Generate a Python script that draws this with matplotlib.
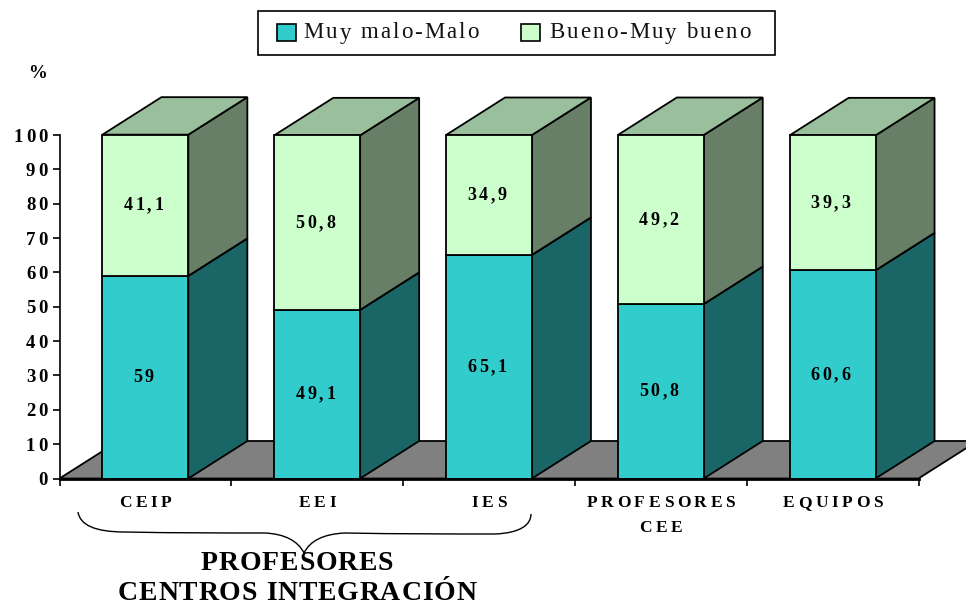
import matplotlib
matplotlib.use("Agg")
import matplotlib.pyplot as plt
from matplotlib.patches import Polygon, Rectangle, PathPatch
from matplotlib.path import Path
from matplotlib.text import Text
from matplotlib.transforms import Affine2D

categories = ["CEIP", "EEI", "IES", "PROFESORES\nCEE", "EQUIPOS"]
malo = [59, 49.1, 65.1, 50.8, 60.6]
bueno = [41.1, 50.8, 34.9, 49.2, 39.3]
series_names = ["Muy malo-Malo", "Bueno-Muy bueno"]
y_ticks = list(range(0, 101, 10))
group_title = "PROFESORES\nCENTROS INTEGRACIÓN"

# Text keeps its whole string; drawing adds letter spacing where _tracking is set.
_orig_draw = Text.draw
def _tracked_draw(self, renderer):
    tracking = getattr(self, "_tracking", 0)
    if not tracking or not self.get_visible() or not self.get_text().strip():
        return _orig_draw(self, renderer)
    _, info, _ = self._get_layout(renderer)
    posx, posy = self.get_transform().transform(self.get_unitless_position())
    fp = self.get_fontproperties()
    gc = renderer.new_gc()
    gc.set_foreground(self.get_color())
    gc.set_alpha(self.get_alpha())
    share = {"left": 0.0, "center": 0.5, "right": 1.0}[self.get_ha()]
    canvash = renderer.get_canvas_width_height()[1]
    adv = lambda s: renderer.get_text_width_height_descent(s, fp, False)[0]
    for line, _wh, x, y in info:
        x0 = posx + x - tracking * (len(line) - 1) * share
        yy = posy + y
        if renderer.flipy():
            yy = canvash - yy
        for k, ch in enumerate(line):
            if ch == " ":
                continue
            off = adv(line[:k] + ch) - adv(ch) if k else 0
            renderer.draw_text(gc, x0 + off + k * tracking, yy, ch, fp, 0, False, mtext=None)
    gc.restore()
    self.stale = False
Text.draw = _tracked_draw

W, H = 966, 607
plt.rcParams["font.family"] = ["Liberation Serif", "DejaVu Serif"]
fig = plt.figure(figsize=(W / 100, H / 100), dpi=100)
L, R, B, T = 59.5, 918.5, 478.5, 135.0
ax = fig.add_axes([L / W, 1 - B / H, (R - L) / W, (B - T) / H])
ax.set_xlim(-0.5, 4.5)
ax.set_ylim(0, 100)
ax.patch.set_visible(False)

px = Affine2D().scale(1, -1).translate(0, H)
DX = 59 / ((R - L) / 5)
DY = 37.5 / ((B - T) / 100)
BW = 0.5
EC = "#000000"
LW = 1.3

# floor
ax.add_patch(Polygon([(-0.5, 0), (-0.5 + DX, DY), (4.5 + DX, DY), (4.5, 0)],
                     closed=True, fc="#808080", ec=EC, lw=LW, clip_on=False, zorder=1))

def box(i, y0, h, front, side, top, z):
    x0, x1 = i - BW / 2, i + BW / 2
    y1 = y0 + h
    ax.add_patch(Polygon([(x1, y0), (x1 + DX, y0 + DY), (x1 + DX, y1 + DY), (x1, y1)],
                         closed=True, fc=side, ec=EC, lw=LW, clip_on=False, zorder=z))
    ax.add_patch(Polygon([(x0, y1), (x0 + DX, y1 + DY), (x1 + DX, y1 + DY), (x1, y1)],
                         closed=True, fc=top, ec=EC, lw=LW, clip_on=False, zorder=z))
    ax.bar(i, h, BW, bottom=y0, color=front, edgecolor=EC, linewidth=LW, clip_on=False, zorder=z + 0.1)

def fmt(v):
    return str(v).replace(".", ",")

label_font = dict(ha="center", va="center", fontsize=13, fontweight="bold", color="black", zorder=10)
for i, (a, b) in enumerate(zip(malo, bueno)):
    box(i, 0, a, "#33CCCC", "#1A6666", "#1A6666", 3)
    box(i, a, b, "#CCFFCC", "#667F66", "#99BF9C", 3)
    ax.text(i - 0.012, a / 2 - 0.2, fmt(a), **label_font)._tracking = 2.8
    ax.text(i - 0.012, a + b / 2 - 0.2, fmt(b), **label_font)._tracking = 2.8

# axes
for s in ("top", "right"):
    ax.spines[s].set_visible(False)
ax.spines["left"].set_linewidth(1.2)
ax.spines["bottom"].set_linewidth(2.0)
ax.spines["bottom"].set_zorder(6)
ax.set_yticks(y_ticks)
ax.set_yticklabels([str(v) for v in y_ticks], fontsize=13.5, fontweight="bold")
ax.tick_params(axis="y", length=5, width=1.2, pad=3.5)
ax.set_xticks(range(len(categories)))
ax.set_xticklabels(categories, fontsize=12.5, fontweight="bold", linespacing=1.72)
ax.set_xticks([i - 0.5 for i in range(len(categories) + 1)], minor=True)
ax.tick_params(axis="x", which="major", length=0, pad=12)
ax.tick_params(axis="x", which="minor", length=5, width=1.2)
for t in ax.get_yticklabels():
    t._tracking = 3
for t in ax.get_xticklabels():
    t._tracking = 3.6

# percent sign
fig.text(38 / W, 1 - 73 / H, "%", ha="center", va="center", fontsize=13.5, fontweight="bold")

# legend
fig.add_artist(Rectangle((257.5, 10.5), 517, 44, transform=px, fc="white", ec="black", lw=1.2))
for x0, col, name, tx in [(277, "#33CCCC", series_names[0], 391),
                          (521, "#CCFFCC", series_names[1], 650)]:
    fig.add_artist(Rectangle((x0, 24), 19, 17, transform=px, fc=col, ec="black", lw=1.2))
    t = fig.text(tx / W, 1 - 33 / H, name, ha="center", va="center", fontsize=16.5, color="#111111")
    t._tracking = 2.0

# brace
verts = [(78, 512), (80, 525), (95, 532), (125, 532),
         (175, 533), (225, 533), (265, 533),
         (285, 534), (298, 541), (304, 553),
         (310, 541), (323, 534), (345, 533),
         (400, 534), (450, 534), (495, 534),
         (520, 533), (531, 525), (531, 514)]
codes = [Path.MOVETO] + [Path.CURVE4] * 18
fig.add_artist(PathPatch(Path(verts, codes), transform=px, fc="none", ec="black", lw=1.0))

# group title
t = fig.text(297 / W, 1 - 578.5 / H, group_title, ha="center", va="center", fontsize=20,
             fontweight="bold", linespacing=1.24, multialignment="center")
t._tracking = 0.9

fig.savefig("out.png", dpi=100)
